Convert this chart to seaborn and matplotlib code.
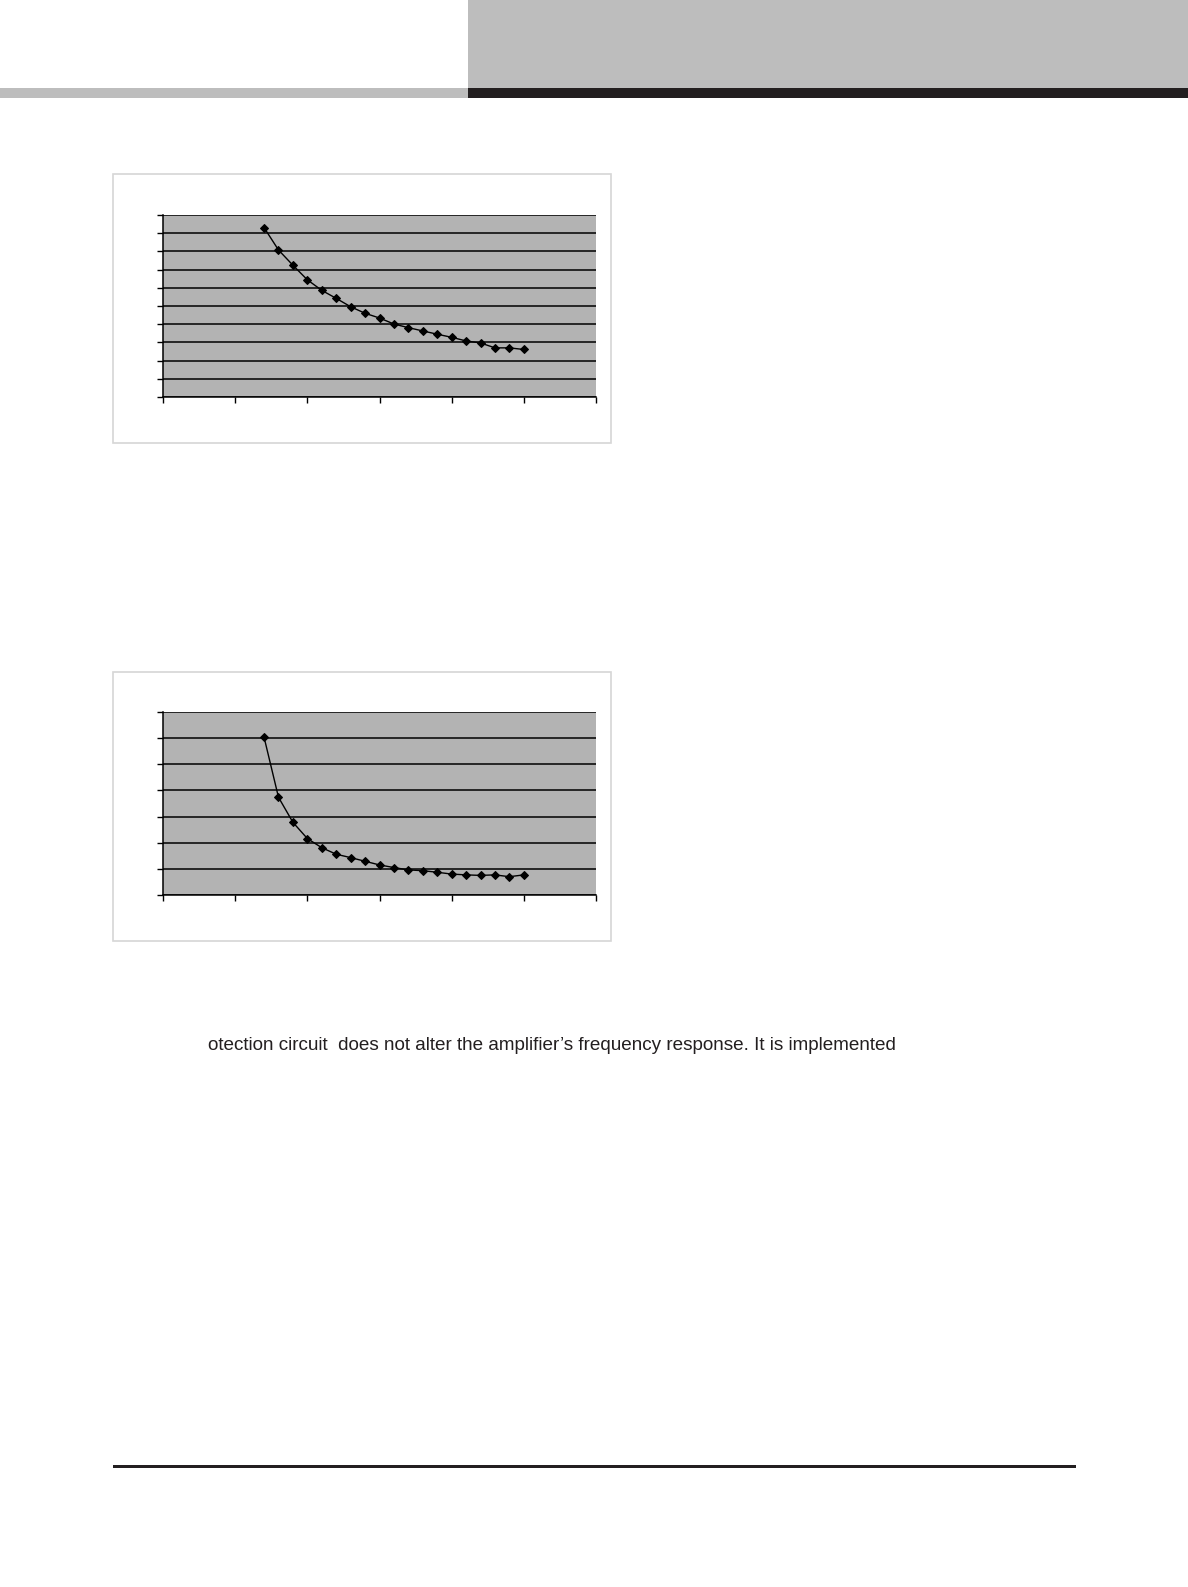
from pathlib import Path

import matplotlib.pyplot as plt
import pandas as pd
import seaborn as sns
from matplotlib.patches import Rectangle


OUT_FILE = Path("out.png")
FIG_W, FIG_H = 1188, 1587

# 横轴取值（两张图共用）
x_values = [7, 8, 9, 10, 11, 12, 13, 14, 15, 16, 17, 18, 19, 20, 21, 22, 23, 24, 25]

# 上图曲线
upper_values = [9.31, 8.08, 7.24, 6.44, 5.86, 5.42, 4.96, 4.60, 4.34, 4.01,
                3.81, 3.63, 3.45, 3.28, 3.08, 2.97, 2.70, 2.70, 2.61]
upper_yticks = [0, 1, 2, 3, 4, 5, 6, 7, 8, 9, 10]

# 下图曲线
lower_values = [6.04, 3.74, 2.78, 2.16, 1.81, 1.56, 1.43, 1.29, 1.15, 1.05,
                0.96, 0.93, 0.87, 0.80, 0.77, 0.75, 0.77, 0.70, 0.77]
lower_yticks = [0, 1, 2, 3, 4, 5, 6, 7]

x_ticks = [0, 5, 10, 15, 20, 25, 30]

body_text = "otection circuit  does not alter the amplifier\u2019s frequency response. It is implemented"


def px_rect(x0, y0, x1, y1):
    """把像素坐标（左上原点）换成 figure 坐标。"""
    return [x0 / FIG_W, 1 - y1 / FIG_H, (x1 - x0) / FIG_W, (y1 - y0) / FIG_H]


def add_box(fig, x0, y0, x1, y1, **kwargs):
    left, bottom, width, height = px_rect(x0, y0, x1, y1)
    fig.patches.append(Rectangle((left, bottom), width, height,
                                 transform=fig.transFigure, **kwargs))


def draw_chart(fig, panel, plot_area, values, yticks):
    # 外框放在坐标轴下面
    add_box(fig, *panel, facecolor="white", edgecolor="#d6d6d6", linewidth=1.2, zorder=-1)
    ax = fig.add_axes(px_rect(*plot_area))
    ax.set_facecolor("#b3b3b3")
    data = pd.DataFrame({"x": x_values, "y": values})
    sns.lineplot(data=data, x="x", y="y", ax=ax, color="black", linewidth=1.0,
                 marker="D", markersize=3.8, markeredgecolor="black")
    ax.set_xlim(x_ticks[0], x_ticks[-1])
    ax.set_ylim(yticks[0], yticks[-1])
    ax.set_xticks(x_ticks)
    ax.set_yticks(yticks)
    ax.set_xticklabels([])
    ax.set_yticklabels([])
    ax.set_xlabel("")
    ax.set_ylabel("")
    ax.grid(axis="y", color="black", linewidth=1.1)
    ax.grid(axis="x", visible=False)
    ax.set_axisbelow(True)
    for side in ("top", "right"):
        ax.spines[side].set_visible(False)
    for side in ("left", "bottom"):
        ax.spines[side].set_color("black")
        ax.spines[side].set_linewidth(1.1)
    # white 风格默认关掉了刻度线，这里重新打开
    ax.tick_params(bottom=True, left=True, direction="out", length=4, width=1,
                   color="black")
    return ax


def main():
    sns.set_theme(style="white")
    plt.rcParams["font.family"] = ["Liberation Sans", "DejaVu Sans"]

    fig = plt.figure(figsize=(FIG_W / 100, FIG_H / 100), dpi=100)
    fig.patch.set_facecolor("white")

    # 页眉
    add_box(fig, 468, 0, 1188, 88, facecolor="#bdbdbd", edgecolor="none")
    add_box(fig, 0, 88, 468, 98, facecolor="#bdbdbd", edgecolor="none")
    add_box(fig, 468, 88, 1188, 98, facecolor="#231f20", edgecolor="none")

    draw_chart(fig, (113, 174, 611, 443), (163, 215, 596, 397), upper_values, upper_yticks)
    draw_chart(fig, (113, 672, 611, 941), (163, 712, 596, 895), lower_values, lower_yticks)

    fig.text(208 / FIG_W, 1 - 1046 / FIG_H, body_text, fontsize=13.6,
             color="#231f20", ha="left", va="center")

    # 页脚分隔线
    add_box(fig, 113, 1465, 1076, 1468, facecolor="#231f20", edgecolor="none")

    fig.savefig(OUT_FILE, dpi=100)
    plt.close(fig)


if __name__ == "__main__":
    main()
